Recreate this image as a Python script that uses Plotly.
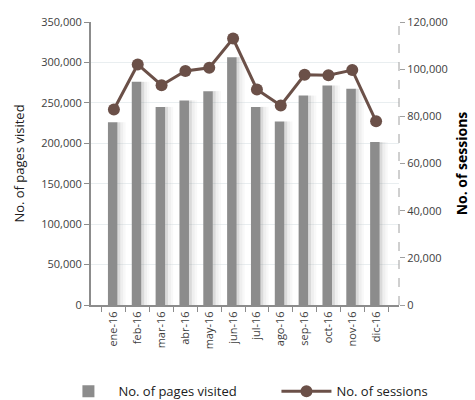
import plotly.graph_objects as go

months = ["ene-16", "feb-16", "mar-16", "abr-16", "may-16", "jun-16",
          "jul-16", "ago-16", "sep-16", "oct-16", "nov-16", "dic-16"]
pages_visited = [226000, 276000, 245000, 253000, 264500, 306500,
                 245000, 227000, 259000, 271500, 267500, 201500]
sessions = [82900, 102000, 93200, 99200, 100600, 113000,
            91400, 84600, 97600, 97400, 99600, 77900]

FONT = "Open Sans"
fig = go.Figure()

# soft shadow to the right of each bar
for off, w, col in [(0.15, 0.12, "rgba(150,150,150,0.35)"),
                    (0.27, 0.12, "rgba(190,190,190,0.25)"),
                    (0.39, 0.1, "rgba(220,220,220,0.2)")]:
    fig.add_trace(go.Bar(x=months, y=pages_visited, offset=off, width=w,
                         marker=dict(color=col, line=dict(width=0)),
                         showlegend=False, hoverinfo="skip", yaxis="y"))

fig.add_trace(go.Bar(x=months, y=pages_visited, name="No. of pages visited",
                     offset=-0.25, width=0.4,
                     marker=dict(color="#8c8c8c", line=dict(width=0)),
                     yaxis="y", legend="legend"))

fig.add_trace(go.Scatter(x=months, y=sessions, name="No. of sessions",
                         mode="lines+markers", yaxis="y2", legend="legend2",
                         line=dict(color="#6b5048", width=3),
                         marker=dict(color="#6b5048", size=12)))

fig.add_shape(type="line", xref="paper", yref="paper", x0=1, x1=1, y0=0, y1=1,
              line=dict(color="#a0a0a0", width=1, dash="dash"))

leg_common = dict(orientation="h", xref="container", yref="container",
                  xanchor="left", yanchor="middle", y=0.022,
                  font=dict(size=13, family=FONT, color="#202020"),
                  itemwidth=50)

fig.update_layout(
    width=475, height=400,
    margin=dict(l=91, r=76, t=22, b=95, autoexpand=False),
    paper_bgcolor="white", plot_bgcolor="white",
    barmode="overlay",
    font=dict(family=FONT, size=11, color="#404040"),
    xaxis=dict(type="category", tickangle=-90, tickson="boundaries",
               ticks="outside", ticklen=5, tickcolor="#8c8c8c", automargin=False,
               showline=True, linecolor="#8c8c8c", linewidth=2,
               showgrid=False, tickfont=dict(size=11, family=FONT, color="#404040")),
    yaxis=dict(range=[0, 350000], dtick=50000, tickformat=",", automargin=False,
               ticks="outside", ticklen=5, tickcolor="#8c8c8c",
               showline=True, linecolor="#8c8c8c", linewidth=2,
               showgrid=True, gridcolor="#e9eef0", gridwidth=1, zeroline=False,
               title=dict(text="No. of pages visited", standoff=14,
                          font=dict(size=13, family=FONT, color="#202020"))),
    yaxis2=dict(range=[0, 120000], dtick=20000, tickformat=",", automargin=False,
                overlaying="y", side="right",
                ticks="outside", ticklen=5, tickcolor="#a0a0a0",
                showline=False, showgrid=False, zeroline=False,
                title=dict(text="<b>No. of sessions</b>", standoff=10,
                           font=dict(size=14, family=FONT, color="#000000"))),
    legend=dict(x=0.123, **leg_common),
    legend2=dict(x=0.582, **leg_common),
    showlegend=True,
)

fig.write_html("out.html")
